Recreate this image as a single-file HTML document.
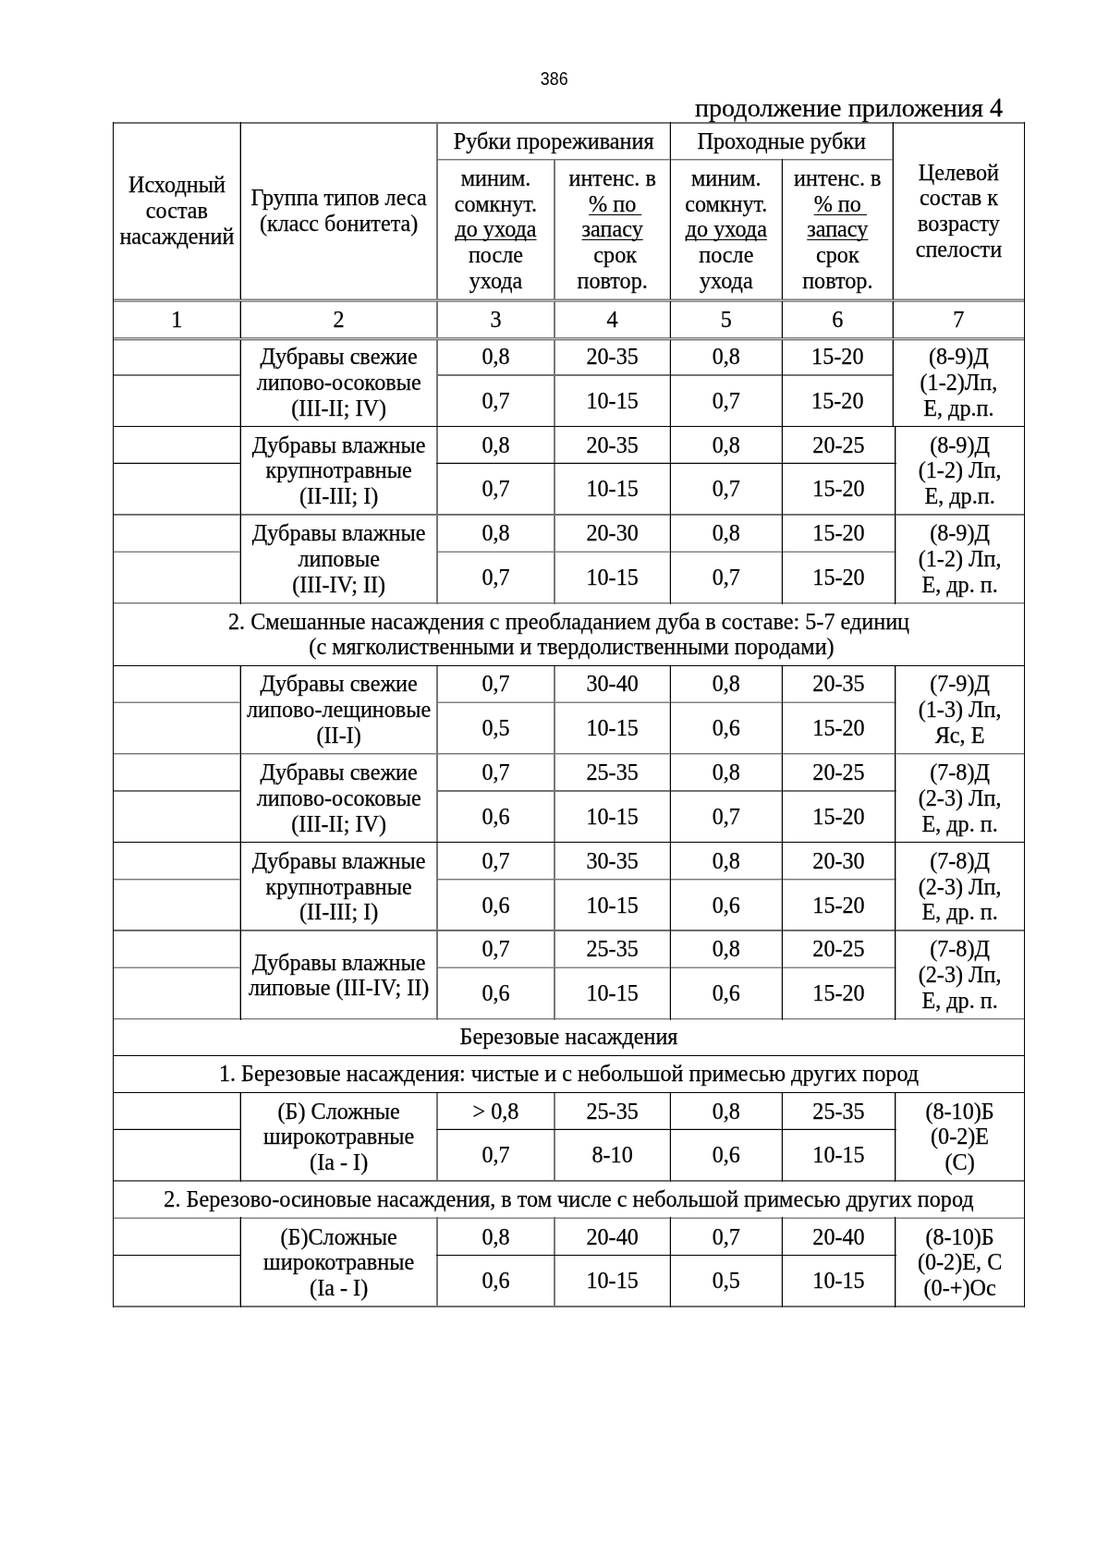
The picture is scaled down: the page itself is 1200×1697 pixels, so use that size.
<!DOCTYPE html>
<html lang="ru"><head><meta charset="utf-8"><title>386</title>
<style>html,body{margin:0;padding:0;background:#fff}body{width:1200px;height:1697px;overflow:hidden}svg{display:block}.s{font-family:"Liberation Serif","DejaVu Serif",serif}.a{font-family:"Liberation Sans","DejaVu Sans",sans-serif;stroke:none}text{fill:#000;stroke:#000;stroke-width:0.25px}.u{text-decoration:underline}</style></head><body>
<svg width="1200" height="1697" viewBox="0 0 1200 1697">
<g shape-rendering="crispEdges">
<rect x="724" y="368" width="1" height="94" fill="#ccc"/>
<rect x="845" y="368" width="1" height="94" fill="#ccc"/>
<rect x="122" y="500" width="139" height="1" fill="#ccc"/>
<rect x="472" y="500" width="498" height="1" fill="#ccc"/>
<rect x="724" y="461" width="1" height="97" fill="#ccc"/>
<rect x="845" y="461" width="1" height="97" fill="#ccc"/>
<rect x="724" y="556" width="1" height="98" fill="#ccc"/>
<rect x="845" y="556" width="1" height="98" fill="#ccc"/>
<rect x="724" y="720" width="1" height="97" fill="#ccc"/>
<rect x="845" y="720" width="1" height="97" fill="#ccc"/>
<rect x="724" y="815" width="1" height="97" fill="#ccc"/>
<rect x="845" y="815" width="1" height="97" fill="#ccc"/>
<rect x="724" y="911" width="1" height="97" fill="#ccc"/>
<rect x="845" y="911" width="1" height="97" fill="#ccc"/>
<rect x="724" y="1006" width="1" height="98" fill="#ccc"/>
<rect x="845" y="1006" width="1" height="98" fill="#ccc"/>
<rect x="122" y="1221" width="139" height="1" fill="#ccc"/>
<rect x="472" y="1221" width="498" height="1" fill="#ccc"/>
<rect x="724" y="1182" width="1" height="97" fill="#ccc"/>
<rect x="845" y="1182" width="1" height="97" fill="#ccc"/>
<rect x="724" y="1317" width="1" height="98" fill="#ccc"/>
<rect x="845" y="1317" width="1" height="98" fill="#ccc"/>
<rect x="724" y="132" width="1" height="192" fill="#ccc"/>
<rect x="724" y="326" width="1" height="40" fill="#ccc"/>
<rect x="845" y="172" width="1" height="152" fill="#ccc"/>
<rect x="845" y="326" width="1" height="40" fill="#ccc"/>
<rect x="122" y="596" width="139" height="1" fill="#c8c8c8"/>
<rect x="472" y="596" width="498" height="1" fill="#c8c8c8"/>
<rect x="122" y="1046" width="139" height="1" fill="#c8c8c8"/>
<rect x="472" y="1046" width="498" height="1" fill="#c8c8c8"/>
<rect x="122" y="1103" width="987" height="1" fill="#c8c8c8"/>
<rect x="122" y="1103" width="987" height="1" fill="#c8c8c8"/>
<rect x="122" y="1317" width="987" height="1" fill="#c8c8c8"/>
<rect x="122" y="325" width="987" height="1" fill="#c4c4c4"/>
<rect x="122" y="366" width="987" height="1" fill="#c4c4c4"/>
<rect x="472" y="173" width="495" height="1" fill="#c0c0c0"/>
<rect x="122" y="653" width="987" height="1" fill="#c0c0c0"/>
<rect x="122" y="759" width="139" height="1" fill="#c0c0c0"/>
<rect x="472" y="759" width="498" height="1" fill="#c0c0c0"/>
<rect x="122" y="816" width="987" height="1" fill="#c0c0c0"/>
<rect x="122" y="952" width="139" height="1" fill="#c0c0c0"/>
<rect x="472" y="952" width="498" height="1" fill="#c0c0c0"/>
<rect x="122" y="653" width="987" height="1" fill="#c0c0c0"/>
<rect x="122" y="368" width="987" height="1" fill="#bcbcbc"/>
<rect x="122" y="323" width="987" height="1" fill="#b8b8b8"/>
<rect x="965" y="368" width="1" height="94" fill="#aaa"/>
<rect x="969" y="461" width="1" height="97" fill="#aaa"/>
<rect x="969" y="556" width="1" height="98" fill="#aaa"/>
<rect x="969" y="720" width="1" height="97" fill="#aaa"/>
<rect x="969" y="815" width="1" height="97" fill="#aaa"/>
<rect x="969" y="911" width="1" height="97" fill="#aaa"/>
<rect x="969" y="1006" width="1" height="98" fill="#aaa"/>
<rect x="969" y="1182" width="1" height="97" fill="#aaa"/>
<rect x="969" y="1317" width="1" height="98" fill="#aaa"/>
<rect x="965" y="132" width="1" height="192" fill="#aaa"/>
<rect x="965" y="326" width="1" height="40" fill="#aaa"/>
<rect x="259" y="368" width="1" height="94" fill="#a0a0a0"/>
<rect x="259" y="461" width="1" height="97" fill="#a0a0a0"/>
<rect x="259" y="556" width="1" height="98" fill="#a0a0a0"/>
<rect x="259" y="720" width="1" height="97" fill="#a0a0a0"/>
<rect x="259" y="815" width="1" height="97" fill="#a0a0a0"/>
<rect x="259" y="911" width="1" height="97" fill="#a0a0a0"/>
<rect x="259" y="1006" width="1" height="98" fill="#a0a0a0"/>
<rect x="259" y="1182" width="1" height="97" fill="#a0a0a0"/>
<rect x="259" y="1317" width="1" height="98" fill="#a0a0a0"/>
<rect x="259" y="132" width="1" height="192" fill="#a0a0a0"/>
<rect x="259" y="326" width="1" height="40" fill="#a0a0a0"/>
<rect x="122" y="597" width="139" height="1" fill="#808080"/>
<rect x="472" y="597" width="498" height="1" fill="#808080"/>
<rect x="122" y="760" width="139" height="1" fill="#808080"/>
<rect x="472" y="760" width="498" height="1" fill="#808080"/>
<rect x="122" y="1047" width="139" height="1" fill="#808080"/>
<rect x="472" y="1047" width="498" height="1" fill="#808080"/>
<rect x="122" y="1102" width="987" height="1" fill="#808080"/>
<rect x="122" y="1102" width="987" height="1" fill="#808080"/>
<rect x="122" y="1318" width="987" height="1" fill="#808080"/>
<rect x="122" y="324" width="987" height="1" fill="#808080"/>
<rect x="122" y="326" width="987" height="1" fill="#808080"/>
<rect x="122" y="365" width="987" height="1" fill="#808080"/>
<rect x="122" y="367" width="987" height="1" fill="#808080"/>
<rect x="472" y="172" width="495" height="1" fill="#7a7a7a"/>
<rect x="122" y="652" width="987" height="1" fill="#7a7a7a"/>
<rect x="122" y="815" width="987" height="1" fill="#7a7a7a"/>
<rect x="122" y="951" width="139" height="1" fill="#7a7a7a"/>
<rect x="472" y="951" width="498" height="1" fill="#7a7a7a"/>
<rect x="122" y="652" width="987" height="1" fill="#7a7a7a"/>
<rect x="472" y="368" width="1" height="94" fill="#777"/>
<rect x="473" y="368" width="1" height="94" fill="#777"/>
<rect x="599" y="368" width="1" height="94" fill="#777"/>
<rect x="600" y="368" width="1" height="94" fill="#777"/>
<rect x="472" y="461" width="1" height="97" fill="#777"/>
<rect x="473" y="461" width="1" height="97" fill="#777"/>
<rect x="599" y="461" width="1" height="97" fill="#777"/>
<rect x="600" y="461" width="1" height="97" fill="#777"/>
<rect x="472" y="556" width="1" height="98" fill="#777"/>
<rect x="473" y="556" width="1" height="98" fill="#777"/>
<rect x="599" y="556" width="1" height="98" fill="#777"/>
<rect x="600" y="556" width="1" height="98" fill="#777"/>
<rect x="472" y="720" width="1" height="97" fill="#777"/>
<rect x="473" y="720" width="1" height="97" fill="#777"/>
<rect x="599" y="720" width="1" height="97" fill="#777"/>
<rect x="600" y="720" width="1" height="97" fill="#777"/>
<rect x="472" y="815" width="1" height="97" fill="#777"/>
<rect x="473" y="815" width="1" height="97" fill="#777"/>
<rect x="599" y="815" width="1" height="97" fill="#777"/>
<rect x="600" y="815" width="1" height="97" fill="#777"/>
<rect x="472" y="911" width="1" height="97" fill="#777"/>
<rect x="473" y="911" width="1" height="97" fill="#777"/>
<rect x="599" y="911" width="1" height="97" fill="#777"/>
<rect x="600" y="911" width="1" height="97" fill="#777"/>
<rect x="472" y="1006" width="1" height="98" fill="#777"/>
<rect x="473" y="1006" width="1" height="98" fill="#777"/>
<rect x="599" y="1006" width="1" height="98" fill="#777"/>
<rect x="600" y="1006" width="1" height="98" fill="#777"/>
<rect x="472" y="1182" width="1" height="97" fill="#777"/>
<rect x="473" y="1182" width="1" height="97" fill="#777"/>
<rect x="599" y="1182" width="1" height="97" fill="#777"/>
<rect x="600" y="1182" width="1" height="97" fill="#777"/>
<rect x="472" y="1317" width="1" height="98" fill="#777"/>
<rect x="473" y="1317" width="1" height="98" fill="#777"/>
<rect x="599" y="1317" width="1" height="98" fill="#777"/>
<rect x="600" y="1317" width="1" height="98" fill="#777"/>
<rect x="472" y="132" width="1" height="192" fill="#777"/>
<rect x="473" y="132" width="1" height="192" fill="#777"/>
<rect x="472" y="326" width="1" height="40" fill="#777"/>
<rect x="473" y="326" width="1" height="40" fill="#777"/>
<rect x="599" y="172" width="1" height="152" fill="#777"/>
<rect x="600" y="172" width="1" height="152" fill="#777"/>
<rect x="599" y="326" width="1" height="40" fill="#777"/>
<rect x="600" y="326" width="1" height="40" fill="#777"/>
<rect x="122" y="132" width="987" height="1" fill="#727272"/>
<rect x="122" y="133" width="987" height="1" fill="#727272"/>
<rect x="122" y="405" width="139" height="1" fill="#727272"/>
<rect x="122" y="406" width="139" height="1" fill="#727272"/>
<rect x="472" y="405" width="495" height="1" fill="#727272"/>
<rect x="472" y="406" width="495" height="1" fill="#727272"/>
<rect x="122" y="556" width="987" height="1" fill="#727272"/>
<rect x="122" y="557" width="987" height="1" fill="#727272"/>
<rect x="122" y="855" width="139" height="1" fill="#727272"/>
<rect x="122" y="856" width="139" height="1" fill="#727272"/>
<rect x="472" y="855" width="498" height="1" fill="#727272"/>
<rect x="472" y="856" width="498" height="1" fill="#727272"/>
<rect x="122" y="1277" width="987" height="1" fill="#707070"/>
<rect x="122" y="1278" width="987" height="1" fill="#707070"/>
<rect x="122" y="1413" width="987" height="1" fill="#707070"/>
<rect x="122" y="1414" width="987" height="1" fill="#707070"/>
<rect x="122" y="1277" width="987" height="1" fill="#707070"/>
<rect x="122" y="1278" width="987" height="1" fill="#707070"/>
<rect x="122" y="1006" width="987" height="1" fill="#6c6c6c"/>
<rect x="122" y="1007" width="987" height="1" fill="#6c6c6c"/>
<rect x="122" y="461" width="987" height="1" fill="#000"/>
<rect x="260" y="368" width="1" height="94" fill="#000"/>
<rect x="725" y="368" width="1" height="94" fill="#000"/>
<rect x="846" y="368" width="1" height="94" fill="#000"/>
<rect x="966" y="368" width="1" height="94" fill="#000"/>
<rect x="122" y="501" width="139" height="1" fill="#000"/>
<rect x="472" y="501" width="498" height="1" fill="#000"/>
<rect x="260" y="461" width="1" height="97" fill="#000"/>
<rect x="725" y="461" width="1" height="97" fill="#000"/>
<rect x="846" y="461" width="1" height="97" fill="#000"/>
<rect x="968" y="461" width="1" height="97" fill="#000"/>
<rect x="260" y="556" width="1" height="98" fill="#000"/>
<rect x="725" y="556" width="1" height="98" fill="#000"/>
<rect x="846" y="556" width="1" height="98" fill="#000"/>
<rect x="968" y="556" width="1" height="98" fill="#000"/>
<rect x="260" y="720" width="1" height="97" fill="#000"/>
<rect x="725" y="720" width="1" height="97" fill="#000"/>
<rect x="846" y="720" width="1" height="97" fill="#000"/>
<rect x="968" y="720" width="1" height="97" fill="#000"/>
<rect x="122" y="911" width="987" height="1" fill="#000"/>
<rect x="260" y="815" width="1" height="97" fill="#000"/>
<rect x="725" y="815" width="1" height="97" fill="#000"/>
<rect x="846" y="815" width="1" height="97" fill="#000"/>
<rect x="968" y="815" width="1" height="97" fill="#000"/>
<rect x="260" y="911" width="1" height="97" fill="#000"/>
<rect x="725" y="911" width="1" height="97" fill="#000"/>
<rect x="846" y="911" width="1" height="97" fill="#000"/>
<rect x="968" y="911" width="1" height="97" fill="#000"/>
<rect x="260" y="1006" width="1" height="98" fill="#000"/>
<rect x="725" y="1006" width="1" height="98" fill="#000"/>
<rect x="846" y="1006" width="1" height="98" fill="#000"/>
<rect x="968" y="1006" width="1" height="98" fill="#000"/>
<rect x="122" y="1222" width="139" height="1" fill="#000"/>
<rect x="472" y="1222" width="498" height="1" fill="#000"/>
<rect x="260" y="1182" width="1" height="97" fill="#000"/>
<rect x="725" y="1182" width="1" height="97" fill="#000"/>
<rect x="846" y="1182" width="1" height="97" fill="#000"/>
<rect x="968" y="1182" width="1" height="97" fill="#000"/>
<rect x="122" y="1358" width="139" height="1" fill="#000"/>
<rect x="472" y="1358" width="498" height="1" fill="#000"/>
<rect x="260" y="1317" width="1" height="98" fill="#000"/>
<rect x="725" y="1317" width="1" height="98" fill="#000"/>
<rect x="846" y="1317" width="1" height="98" fill="#000"/>
<rect x="968" y="1317" width="1" height="98" fill="#000"/>
<rect x="122" y="720" width="987" height="1" fill="#000"/>
<rect x="122" y="1142" width="987" height="1" fill="#000"/>
<rect x="122" y="1182" width="987" height="1" fill="#000"/>
<rect x="260" y="132" width="1" height="192" fill="#000"/>
<rect x="260" y="326" width="1" height="40" fill="#000"/>
<rect x="725" y="132" width="1" height="192" fill="#000"/>
<rect x="725" y="326" width="1" height="40" fill="#000"/>
<rect x="846" y="172" width="1" height="152" fill="#000"/>
<rect x="846" y="326" width="1" height="40" fill="#000"/>
<rect x="966" y="132" width="1" height="192" fill="#000"/>
<rect x="966" y="326" width="1" height="40" fill="#000"/>
<rect x="122" y="132" width="1" height="1283" fill="#000"/>
<rect x="1108" y="132" width="1" height="1283" fill="#000"/>
</g><g>
<line x1="492.40" y1="259.50" x2="580.60" y2="259.50" stroke="#000" stroke-width="1.1"/>
<line x1="637.02" y1="232.50" x2="694.33" y2="232.50" stroke="#000" stroke-width="1.1"/>
<line x1="629.55" y1="259.50" x2="695.75" y2="259.50" stroke="#000" stroke-width="1.1"/>
<line x1="741.70" y1="259.50" x2="829.90" y2="259.50" stroke="#000" stroke-width="1.1"/>
<line x1="880.67" y1="232.50" x2="937.98" y2="232.50" stroke="#000" stroke-width="1.1"/>
<line x1="873.20" y1="259.50" x2="939.40" y2="259.50" stroke="#000" stroke-width="1.1"/>
</g>
<text class="a" transform="translate(599.70 92.10) scale(0.915 1)" x="0" y="0" font-size="19.5" text-anchor="middle">386</text>
<text class="s" x="1063.89" y="125.70" font-size="28.15" text-anchor="end">продолжение приложения</text>
<text class="s" x="191.40" y="208.40" font-size="24.2" text-anchor="middle">Исходный</text>
<text class="s" x="191.40" y="236.23" font-size="24.2" text-anchor="middle">состав</text>
<text class="s" x="191.40" y="264.06" font-size="24.2" text-anchor="middle">насаждений</text>
<text class="s" x="366.65" y="222.40" font-size="24.2" text-anchor="middle">Группа типов леса</text>
<text class="s" x="366.65" y="250.23" font-size="24.2" text-anchor="middle">(класс бонитета)</text>
<text class="s" x="599.15" y="161.00" font-size="24.2" text-anchor="middle">Рубки прореживания</text>
<text class="s" x="845.80" y="161.00" font-size="24.2" text-anchor="middle">Проходные рубки</text>
<text class="s" x="536.50" y="200.70" font-size="24.2" text-anchor="middle">миним.</text>
<text class="s" x="536.50" y="228.53" font-size="24.2" text-anchor="middle">сомкнут.</text>
<text class="s" x="536.50" y="256.36" font-size="24.2" text-anchor="middle">до ухода</text>
<text class="s" x="536.50" y="284.19" font-size="24.2" text-anchor="middle">после</text>
<text class="s" x="536.50" y="312.02" font-size="24.2" text-anchor="middle">ухода</text>
<text class="s" x="662.65" y="200.70" font-size="24.2" text-anchor="middle">интенс. в</text>
<text class="s" x="662.65" y="228.53" font-size="24.2" text-anchor="middle">% по</text>
<text class="s" x="662.65" y="256.36" font-size="24.2" text-anchor="middle">запасу</text>
<text class="s" x="665.65" y="284.19" font-size="24.2" text-anchor="middle">срок</text>
<text class="s" x="662.65" y="312.02" font-size="24.2" text-anchor="middle">повтор.</text>
<text class="s" x="785.80" y="200.70" font-size="24.2" text-anchor="middle">миним.</text>
<text class="s" x="785.80" y="228.53" font-size="24.2" text-anchor="middle">сомкнут.</text>
<text class="s" x="785.80" y="256.36" font-size="24.2" text-anchor="middle">до ухода</text>
<text class="s" x="785.80" y="284.19" font-size="24.2" text-anchor="middle">после</text>
<text class="s" x="785.80" y="312.02" font-size="24.2" text-anchor="middle">ухода</text>
<text class="s" x="906.30" y="200.70" font-size="24.2" text-anchor="middle">интенс. в</text>
<text class="s" x="906.30" y="228.53" font-size="24.2" text-anchor="middle">% по</text>
<text class="s" x="906.30" y="256.36" font-size="24.2" text-anchor="middle">запасу</text>
<text class="s" x="906.30" y="284.19" font-size="24.2" text-anchor="middle">срок</text>
<text class="s" x="906.30" y="312.02" font-size="24.2" text-anchor="middle">повтор.</text>
<text class="s" x="1037.40" y="194.60" font-size="24.2" text-anchor="middle">Целевой</text>
<text class="s" x="1037.40" y="222.43" font-size="24.2" text-anchor="middle">состав к</text>
<text class="s" x="1037.40" y="250.26" font-size="24.2" text-anchor="middle">возрасту</text>
<text class="s" x="1037.40" y="278.09" font-size="24.2" text-anchor="middle">спелости</text>
<text class="s" x="191.40" y="353.50" font-size="24.2" text-anchor="middle">1</text>
<text class="s" x="366.65" y="353.50" font-size="24.2" text-anchor="middle">2</text>
<text class="s" x="536.50" y="353.50" font-size="24.2" text-anchor="middle">3</text>
<text class="s" x="662.65" y="353.50" font-size="24.2" text-anchor="middle">4</text>
<text class="s" x="785.80" y="353.50" font-size="24.2" text-anchor="middle">5</text>
<text class="s" x="906.30" y="353.50" font-size="24.2" text-anchor="middle">6</text>
<text class="s" x="1037.40" y="353.50" font-size="24.2" text-anchor="middle">7</text>
<text class="s" x="366.65" y="394.00" font-size="24.2" text-anchor="middle">Дубравы свежие</text>
<text class="s" x="366.65" y="421.83" font-size="24.2" text-anchor="middle">липово-осоковые</text>
<text class="s" x="366.65" y="449.66" font-size="24.2" text-anchor="middle">(III-II; IV)</text>
<text class="s" x="1037.40" y="394.00" font-size="24.2" text-anchor="middle">(8-9)Д</text>
<text class="s" x="1037.40" y="421.83" font-size="24.2" text-anchor="middle">(1-2)Лп,</text>
<text class="s" x="1037.40" y="449.66" font-size="24.2" text-anchor="middle">Е, др.п.</text>
<text class="s" x="536.50" y="394.00" font-size="24.2" text-anchor="middle">0,8</text>
<text class="s" x="662.65" y="394.00" font-size="24.2" text-anchor="middle">20-35</text>
<text class="s" x="785.80" y="394.00" font-size="24.2" text-anchor="middle">0,8</text>
<text class="s" x="906.30" y="394.00" font-size="24.2" text-anchor="middle">15-20</text>
<text class="s" x="536.50" y="441.70" font-size="24.2" text-anchor="middle">0,7</text>
<text class="s" x="662.65" y="441.70" font-size="24.2" text-anchor="middle">10-15</text>
<text class="s" x="785.80" y="441.70" font-size="24.2" text-anchor="middle">0,7</text>
<text class="s" x="906.30" y="441.70" font-size="24.2" text-anchor="middle">15-20</text>
<text class="s" x="366.65" y="489.50" font-size="24.2" text-anchor="middle">Дубравы влажные</text>
<text class="s" x="366.65" y="517.33" font-size="24.2" text-anchor="middle">крупнотравные</text>
<text class="s" x="366.65" y="545.16" font-size="24.2" text-anchor="middle">(II-III; I)</text>
<text class="s" x="1038.60" y="489.50" font-size="24.2" text-anchor="middle">(8-9)Д</text>
<text class="s" x="1038.60" y="517.33" font-size="24.2" text-anchor="middle">(1-2) Лп,</text>
<text class="s" x="1038.60" y="545.16" font-size="24.2" text-anchor="middle">Е, др.п.</text>
<text class="s" x="536.50" y="489.50" font-size="24.2" text-anchor="middle">0,8</text>
<text class="s" x="662.65" y="489.50" font-size="24.2" text-anchor="middle">20-35</text>
<text class="s" x="785.80" y="489.50" font-size="24.2" text-anchor="middle">0,8</text>
<text class="s" x="907.50" y="489.50" font-size="24.2" text-anchor="middle">20-25</text>
<text class="s" x="536.50" y="537.20" font-size="24.2" text-anchor="middle">0,7</text>
<text class="s" x="662.65" y="537.20" font-size="24.2" text-anchor="middle">10-15</text>
<text class="s" x="785.80" y="537.20" font-size="24.2" text-anchor="middle">0,7</text>
<text class="s" x="907.50" y="537.20" font-size="24.2" text-anchor="middle">15-20</text>
<text class="s" x="366.65" y="585.30" font-size="24.2" text-anchor="middle">Дубравы влажные</text>
<text class="s" x="366.65" y="613.13" font-size="24.2" text-anchor="middle">липовые</text>
<text class="s" x="366.65" y="640.96" font-size="24.2" text-anchor="middle">(III-IV; II)</text>
<text class="s" x="1038.60" y="585.30" font-size="24.2" text-anchor="middle">(8-9)Д</text>
<text class="s" x="1038.60" y="613.13" font-size="24.2" text-anchor="middle">(1-2) Лп,</text>
<text class="s" x="1038.60" y="640.96" font-size="24.2" text-anchor="middle">Е, др. п.</text>
<text class="s" x="536.50" y="585.30" font-size="24.2" text-anchor="middle">0,8</text>
<text class="s" x="662.65" y="585.30" font-size="24.2" text-anchor="middle">20-30</text>
<text class="s" x="785.80" y="585.30" font-size="24.2" text-anchor="middle">0,8</text>
<text class="s" x="907.50" y="585.30" font-size="24.2" text-anchor="middle">15-20</text>
<text class="s" x="536.50" y="633.00" font-size="24.2" text-anchor="middle">0,7</text>
<text class="s" x="662.65" y="633.00" font-size="24.2" text-anchor="middle">10-15</text>
<text class="s" x="785.80" y="633.00" font-size="24.2" text-anchor="middle">0,7</text>
<text class="s" x="907.50" y="633.00" font-size="24.2" text-anchor="middle">15-20</text>
<text class="s" x="366.65" y="748.10" font-size="24.2" text-anchor="middle">Дубравы свежие</text>
<text class="s" x="366.65" y="775.93" font-size="24.2" text-anchor="middle">липово-лещиновые</text>
<text class="s" x="366.65" y="803.76" font-size="24.2" text-anchor="middle">(II-I)</text>
<text class="s" x="1038.60" y="748.10" font-size="24.2" text-anchor="middle">(7-9)Д</text>
<text class="s" x="1038.60" y="775.93" font-size="24.2" text-anchor="middle">(1-3) Лп,</text>
<text class="s" x="1038.60" y="803.76" font-size="24.2" text-anchor="middle">Яс, Е</text>
<text class="s" x="536.50" y="748.10" font-size="24.2" text-anchor="middle">0,7</text>
<text class="s" x="662.65" y="748.10" font-size="24.2" text-anchor="middle">30-40</text>
<text class="s" x="785.80" y="748.10" font-size="24.2" text-anchor="middle">0,8</text>
<text class="s" x="907.50" y="748.10" font-size="24.2" text-anchor="middle">20-35</text>
<text class="s" x="536.50" y="795.80" font-size="24.2" text-anchor="middle">0,5</text>
<text class="s" x="662.65" y="795.80" font-size="24.2" text-anchor="middle">10-15</text>
<text class="s" x="785.80" y="795.80" font-size="24.2" text-anchor="middle">0,6</text>
<text class="s" x="907.50" y="795.80" font-size="24.2" text-anchor="middle">15-20</text>
<text class="s" x="366.65" y="844.00" font-size="24.2" text-anchor="middle">Дубравы свежие</text>
<text class="s" x="366.65" y="871.83" font-size="24.2" text-anchor="middle">липово-осоковые</text>
<text class="s" x="366.65" y="899.66" font-size="24.2" text-anchor="middle">(III-II; IV)</text>
<text class="s" x="1038.60" y="844.00" font-size="24.2" text-anchor="middle">(7-8)Д</text>
<text class="s" x="1038.60" y="871.83" font-size="24.2" text-anchor="middle">(2-3) Лп,</text>
<text class="s" x="1038.60" y="899.66" font-size="24.2" text-anchor="middle">Е, др. п.</text>
<text class="s" x="536.50" y="844.00" font-size="24.2" text-anchor="middle">0,7</text>
<text class="s" x="662.65" y="844.00" font-size="24.2" text-anchor="middle">25-35</text>
<text class="s" x="785.80" y="844.00" font-size="24.2" text-anchor="middle">0,8</text>
<text class="s" x="907.50" y="844.00" font-size="24.2" text-anchor="middle">20-25</text>
<text class="s" x="536.50" y="891.70" font-size="24.2" text-anchor="middle">0,6</text>
<text class="s" x="662.65" y="891.70" font-size="24.2" text-anchor="middle">10-15</text>
<text class="s" x="785.80" y="891.70" font-size="24.2" text-anchor="middle">0,7</text>
<text class="s" x="907.50" y="891.70" font-size="24.2" text-anchor="middle">15-20</text>
<text class="s" x="366.65" y="939.80" font-size="24.2" text-anchor="middle">Дубравы влажные</text>
<text class="s" x="366.65" y="967.63" font-size="24.2" text-anchor="middle">крупнотравные</text>
<text class="s" x="366.65" y="995.46" font-size="24.2" text-anchor="middle">(II-III; I)</text>
<text class="s" x="1038.60" y="939.80" font-size="24.2" text-anchor="middle">(7-8)Д</text>
<text class="s" x="1038.60" y="967.63" font-size="24.2" text-anchor="middle">(2-3) Лп,</text>
<text class="s" x="1038.60" y="995.46" font-size="24.2" text-anchor="middle">Е, др. п.</text>
<text class="s" x="536.50" y="939.80" font-size="24.2" text-anchor="middle">0,7</text>
<text class="s" x="662.65" y="939.80" font-size="24.2" text-anchor="middle">30-35</text>
<text class="s" x="785.80" y="939.80" font-size="24.2" text-anchor="middle">0,8</text>
<text class="s" x="907.50" y="939.80" font-size="24.2" text-anchor="middle">20-30</text>
<text class="s" x="536.50" y="987.50" font-size="24.2" text-anchor="middle">0,6</text>
<text class="s" x="662.65" y="987.50" font-size="24.2" text-anchor="middle">10-15</text>
<text class="s" x="785.80" y="987.50" font-size="24.2" text-anchor="middle">0,6</text>
<text class="s" x="907.50" y="987.50" font-size="24.2" text-anchor="middle">15-20</text>
<text class="s" x="366.65" y="1049.50" font-size="24.2" text-anchor="middle">Дубравы влажные</text>
<text class="s" x="366.65" y="1077.33" font-size="24.2" text-anchor="middle">липовые (III-IV; II)</text>
<text class="s" x="1038.60" y="1035.30" font-size="24.2" text-anchor="middle">(7-8)Д</text>
<text class="s" x="1038.60" y="1063.13" font-size="24.2" text-anchor="middle">(2-3) Лп,</text>
<text class="s" x="1038.60" y="1090.96" font-size="24.2" text-anchor="middle">Е, др. п.</text>
<text class="s" x="536.50" y="1035.30" font-size="24.2" text-anchor="middle">0,7</text>
<text class="s" x="662.65" y="1035.30" font-size="24.2" text-anchor="middle">25-35</text>
<text class="s" x="785.80" y="1035.30" font-size="24.2" text-anchor="middle">0,8</text>
<text class="s" x="907.50" y="1035.30" font-size="24.2" text-anchor="middle">20-25</text>
<text class="s" x="536.50" y="1083.00" font-size="24.2" text-anchor="middle">0,6</text>
<text class="s" x="662.65" y="1083.00" font-size="24.2" text-anchor="middle">10-15</text>
<text class="s" x="785.80" y="1083.00" font-size="24.2" text-anchor="middle">0,6</text>
<text class="s" x="907.50" y="1083.00" font-size="24.2" text-anchor="middle">15-20</text>
<text class="s" x="366.65" y="1210.50" font-size="24.2" text-anchor="middle">(Б) Сложные</text>
<text class="s" x="366.65" y="1238.33" font-size="24.2" text-anchor="middle">широкотравные</text>
<text class="s" x="366.65" y="1266.16" font-size="24.2" text-anchor="middle">(Iа - I)</text>
<text class="s" x="1038.60" y="1210.50" font-size="24.2" text-anchor="middle">(8-10)Б</text>
<text class="s" x="1038.60" y="1238.33" font-size="24.2" text-anchor="middle">(0-2)Е</text>
<text class="s" x="1038.60" y="1266.16" font-size="24.2" text-anchor="middle">(С)</text>
<text class="s" x="536.50" y="1210.50" font-size="24.2" text-anchor="middle">&gt; 0,8</text>
<text class="s" x="662.65" y="1210.50" font-size="24.2" text-anchor="middle">25-35</text>
<text class="s" x="785.80" y="1210.50" font-size="24.2" text-anchor="middle">0,8</text>
<text class="s" x="907.50" y="1210.50" font-size="24.2" text-anchor="middle">25-35</text>
<text class="s" x="536.50" y="1258.20" font-size="24.2" text-anchor="middle">0,7</text>
<text class="s" x="662.65" y="1258.20" font-size="24.2" text-anchor="middle">8-10</text>
<text class="s" x="785.80" y="1258.20" font-size="24.2" text-anchor="middle">0,6</text>
<text class="s" x="907.50" y="1258.20" font-size="24.2" text-anchor="middle">10-15</text>
<text class="s" x="366.65" y="1346.50" font-size="24.2" text-anchor="middle">(Б)Сложные</text>
<text class="s" x="366.65" y="1374.33" font-size="24.2" text-anchor="middle">широкотравные</text>
<text class="s" x="366.65" y="1402.16" font-size="24.2" text-anchor="middle">(Iа - I)</text>
<text class="s" x="1038.60" y="1346.50" font-size="24.2" text-anchor="middle">(8-10)Б</text>
<text class="s" x="1038.60" y="1374.33" font-size="24.2" text-anchor="middle">(0-2)Е, С</text>
<text class="s" x="1038.60" y="1402.16" font-size="24.2" text-anchor="middle">(0-+)Ос</text>
<text class="s" x="536.50" y="1346.50" font-size="24.2" text-anchor="middle">0,8</text>
<text class="s" x="662.65" y="1346.50" font-size="24.2" text-anchor="middle">20-40</text>
<text class="s" x="785.80" y="1346.50" font-size="24.2" text-anchor="middle">0,7</text>
<text class="s" x="907.50" y="1346.50" font-size="24.2" text-anchor="middle">20-40</text>
<text class="s" x="536.50" y="1394.20" font-size="24.2" text-anchor="middle">0,6</text>
<text class="s" x="662.65" y="1394.20" font-size="24.2" text-anchor="middle">10-15</text>
<text class="s" x="785.80" y="1394.20" font-size="24.2" text-anchor="middle">0,5</text>
<text class="s" x="907.50" y="1394.20" font-size="24.2" text-anchor="middle">10-15</text>
<text class="s" x="615.50" y="680.70" font-size="24.2" text-anchor="middle">2. Смешанные насаждения с преобладанием дуба в составе: 5-7 единиц</text>
<text class="s" x="618.50" y="708.00" font-size="24.2" text-anchor="middle">(с мягколиственными и твердолиственными породами)</text>
<text class="s" x="615.50" y="1129.80" font-size="24.2" text-anchor="middle">Березовые насаждения</text>
<text class="s" x="615.50" y="1170.30" font-size="24.2" text-anchor="middle">1. Березовые насаждения: чистые и с небольшой примесью других пород</text>
<text class="s" x="615.50" y="1306.30" font-size="24.2" text-anchor="middle">2. Березово-осиновые насаждения, в том числе с небольшой примесью других пород</text>
<text class="s" transform="translate(1085 125.7) scale(1 1.06)" x="0" y="0" font-size="28.15" text-anchor="end">4</text>
</svg></body></html>
